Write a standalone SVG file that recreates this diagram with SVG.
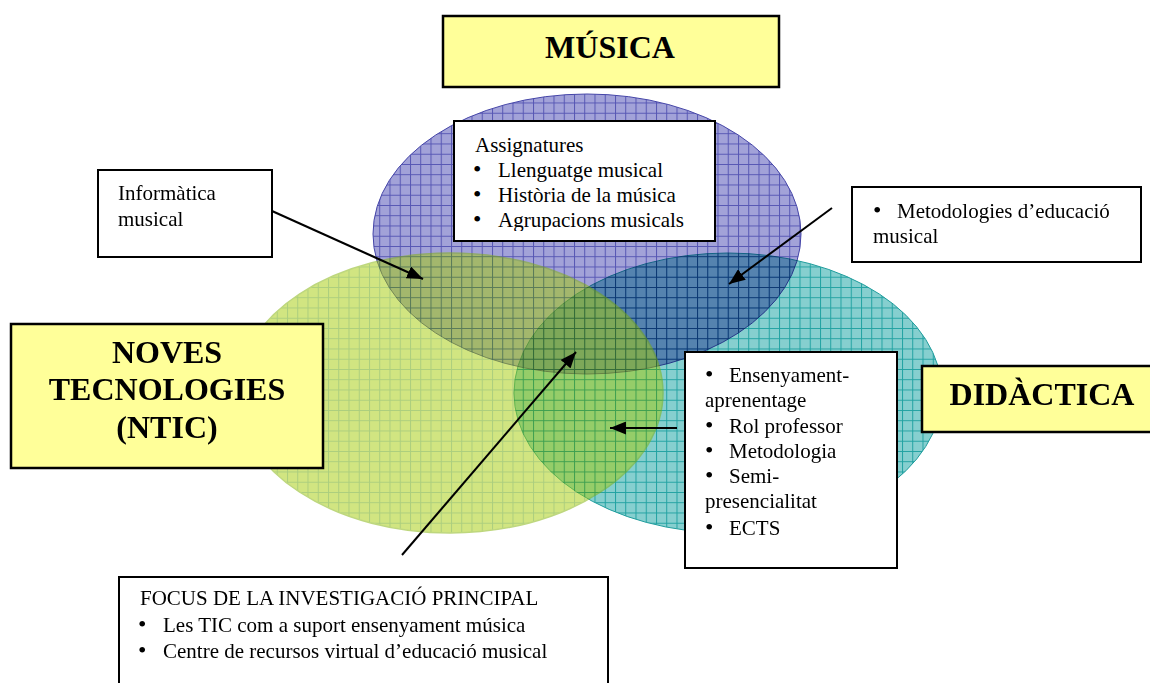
<svg xmlns="http://www.w3.org/2000/svg" width="1150" height="683" viewBox="0 0 1150 683">
<style>
.body{font-family:"Liberation Serif","Times New Roman",serif;font-size:21px;fill:#000}
.bul{font-size:24px}
.title{font-family:"Liberation Serif","Times New Roman",serif;font-size:32px;font-weight:bold;fill:#000;text-anchor:middle}
.box{fill:#fff;stroke:#000;stroke-width:2}
.ybox{fill:#FFFF99;stroke:#000;stroke-width:2.5}
.conn line{stroke:#000;stroke-width:2;marker-end:url(#arr)}
</style>
<defs>
<pattern id="pP" width="10.25" height="10.25" patternUnits="userSpaceOnUse">
<rect width="10.25" height="10.25" fill="#A2A2D8"/>
<path d="M0 0.5H10.25M0.5 0V10.25" stroke="#5656B4" stroke-width="1" fill="none"/>
</pattern>
<pattern id="pG" width="10.25" height="10.25" patternUnits="userSpaceOnUse">
<rect width="10.25" height="10.25" fill="#A5CD05"/>
<path d="M0 0.5H10.25M0.5 0V10.25" stroke="#5A9E00" stroke-width="1" fill="none"/>
</pattern>
<pattern id="pT" width="10.25" height="10.25" patternUnits="userSpaceOnUse">
<rect width="10.25" height="10.25" fill="#86CFCF"/>
<path d="M0 0.5H10.25M0.5 0V10.25" stroke="#22A2A2" stroke-width="1" fill="none"/>
</pattern>
<marker id="arr" viewBox="0 0 16 13" refX="16" refY="6.5" markerWidth="16" markerHeight="13" markerUnits="userSpaceOnUse" orient="auto">
<path d="M0 0L16 6.5L0 13z" fill="#000"/>
</marker>
<clipPath id="clipA"><rect x="455" y="122" width="259" height="109"/></clipPath>
</defs>
<rect width="1150" height="683" fill="#fff"/>

<g id="ellipses">
<ellipse id="ell-musica" cx="587" cy="234" rx="214" ry="140" fill="url(#pP)" stroke="#4545A8" stroke-width="1"/>
<ellipse id="ell-didactica" cx="728" cy="393" rx="214" ry="140" fill="url(#pT)" stroke="#1E9C9C" stroke-width="1" style="mix-blend-mode:multiply"/>
<ellipse id="ell-ntic" cx="450" cy="393" rx="213" ry="140" fill="url(#pG)" stroke="#7FB000" stroke-width="1.5" opacity="0.5"/>
</g>

<g id="node-musica">
<rect class="ybox" x="443" y="16" width="336" height="71"/>
<text class="title" x="610" y="58">MÚSICA</text>
</g>

<g id="node-assignatures">
<rect class="box" x="454" y="121" width="261" height="120"/>
<g clip-path="url(#clipA)">
<text class="body" x="475" y="152">Assignatures</text>
<text class="body" y="177"><tspan class="bul" x="473">•</tspan><tspan x="498">Llenguatge musical</tspan></text>
<text class="body" y="202"><tspan class="bul" x="473">•</tspan><tspan x="498">Història de la música</tspan></text>
<text class="body" y="227"><tspan class="bul" x="473">•</tspan><tspan x="498">Agrupacions musicals</tspan></text>
</g>
</g>

<g id="node-informatica">
<rect class="box" x="98" y="170" width="174" height="87"/>
<text class="body" x="118" y="200">Informàtica</text>
<text class="body" x="118" y="226">musical</text>
</g>

<g id="node-metodologies">
<rect class="box" x="852" y="187" width="289" height="75"/>
<text class="body" y="218"><tspan class="bul" x="873">•</tspan><tspan x="897">Metodologies d’educació</tspan></text>
<text class="body" x="873" y="243">musical</text>
</g>

<g id="node-ntic">
<rect class="ybox" x="11" y="324" width="312" height="144"/>
<text class="title" x="167" y="363">NOVES</text>
<text class="title" x="167" y="400">TECNOLOGIES</text>
<text class="title" x="167" y="438">(NTIC)</text>
</g>

<g id="node-didactica">
<rect class="ybox" x="922" y="366" width="240" height="66"/>
<text class="title" x="1042" y="405">DIDÀCTICA</text>
</g>

<g id="node-ensenyament">
<rect class="box" x="685" y="352" width="212" height="216"/>
<text class="body" y="382"><tspan class="bul" x="705">•</tspan><tspan x="729">Ensenyament-</tspan></text>
<text class="body" x="705" y="407">aprenentage</text>
<text class="body" y="433"><tspan class="bul" x="705">•</tspan><tspan x="729">Rol professor</tspan></text>
<text class="body" y="458"><tspan class="bul" x="705">•</tspan><tspan x="729">Metodologia</tspan></text>
<text class="body" y="483"><tspan class="bul" x="705">•</tspan><tspan x="729">Semi-</tspan></text>
<text class="body" x="705" y="508">presencialitat</text>
<text class="body" y="535"><tspan class="bul" x="705">•</tspan><tspan x="729">ECTS</tspan></text>
</g>

<g id="node-focus">
<rect class="box" x="119" y="577" width="489" height="120"/>
<text class="body" x="140" y="605">FOCUS DE LA INVESTIGACIÓ PRINCIPAL</text>
<text class="body" y="632"><tspan class="bul" x="138">•</tspan><tspan x="163">Les TIC com a suport ensenyament música</tspan></text>
<text class="body" y="658"><tspan class="bul" x="138">•</tspan><tspan x="163">Centre de recursos virtual d’educació musical</tspan></text>
</g>

<g id="connectors" class="conn">
<line x1="272" y1="211" x2="423" y2="279"/>
<line x1="832" y1="208" x2="729" y2="284"/>
<line x1="677" y1="428" x2="610" y2="428"/>
<line x1="402" y1="555" x2="576" y2="352"/>
</g>
</svg>
